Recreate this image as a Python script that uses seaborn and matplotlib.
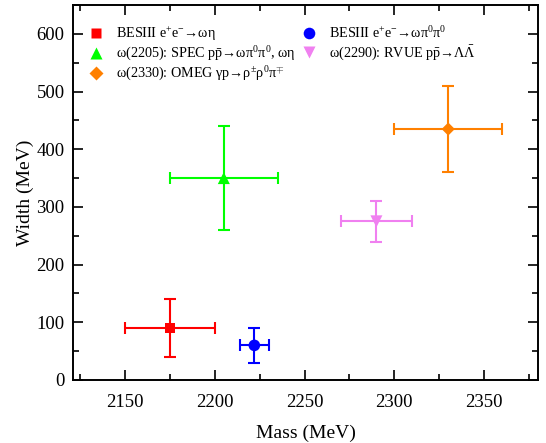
import matplotlib
matplotlib.use('Agg')
import matplotlib.pyplot as plt
from matplotlib.ticker import MultipleLocator
import seaborn as sns
import pandas as pd

# measurements: mass, width and their errors (MeV)
labels = [
    'BESIII e$^{+}$e$^{-}$→ωη',
    'ω(2205): SPEC p$\\bar{\\mathrm{p}}$→ωπ$^{0}$π$^{0}$, ωη',
    'ω(2330): OMEG γp→ρ$^{\\pm}$ρ$^{0}$π$^{\\mp}$',
    'BESIII e$^{+}$e$^{-}$→ωπ$^{0}$π$^{0}$',
    'ω(2290): RVUE p$\\bar{\\mathrm{p}}$→Λ$\\bar{\\Lambda}$',
]
mass = [2175, 2205, 2330, 2222, 2290]
mass_err = [25, 30, 30, 8, 20]
width = [90, 350, 435, 60, 275]
width_err = [50, 90, 75, 30, 35]
colors = ['#FF0000', '#00FF00', '#FF8000', '#0000FF', '#F080F0']
markers = ['s', '^', 'D', 'o', 'v']
sizes = [60, 75, 45, 70, 75]

df = pd.DataFrame({'label': labels, 'mass': mass, 'mass_err': mass_err,
                   'width': width, 'width_err': width_err})

sns.set_style('ticks', rc={'axes.edgecolor': 'black', 'xtick.color': 'black',
                           'ytick.color': 'black', 'text.color': 'black',
                           'axes.labelcolor': 'black'})
plt.rcParams['font.family'] = ['Liberation Serif', 'DejaVu Serif']
plt.rcParams['mathtext.fontset'] = 'custom'
plt.rcParams['mathtext.rm'] = 'Liberation Serif'
plt.rcParams['mathtext.it'] = 'Liberation Serif'
plt.rcParams['mathtext.default'] = 'rm'

fig = plt.figure(figsize=(5.46, 4.43), dpi=100)
ax = fig.add_axes([73 / 546, 1 - 380 / 443, 465 / 546, 375 / 443])

for i, row in df.iterrows():
    ax.errorbar(row['mass'], row['width'], xerr=row['mass_err'], yerr=row['width_err'],
                fmt='none', ecolor=colors[i], elinewidth=1.5, capsize=4, capthick=1.5,
                zorder=2)

sns.scatterplot(data=df, x='mass', y='width', hue='label', style='label',
                palette=dict(zip(labels, colors)), markers=dict(zip(labels, markers)),
                size='label', sizes=dict(zip(labels, sizes)),
                edgecolor='none', ax=ax, zorder=3, legend='full')

ax.set_xlim(2121, 2380)
ax.set_ylim(0, 650)
ax.xaxis.set_major_locator(MultipleLocator(50))
ax.xaxis.set_minor_locator(MultipleLocator(25))
ax.yaxis.set_major_locator(MultipleLocator(100))
ax.yaxis.set_minor_locator(MultipleLocator(50))
ax.tick_params(which='both', direction='in', top=True, right=True, width=1.2)
ax.tick_params(which='major', length=7, labelsize=13.5)
ax.tick_params(axis='x', which='major', pad=10)
ax.tick_params(axis='y', which='major', pad=6)
ax.tick_params(which='minor', length=4)
for s in ax.spines.values():
    s.set_linewidth(1.4)

ax.set_xlabel('Mass (MeV)', fontsize=14, labelpad=10)
ax.set_ylabel('Width (MeV)', fontsize=14, labelpad=2)

handles, lbls = ax.get_legend_handles_labels()
ax.legend(handles, lbls, ncol=2, loc='upper left', frameon=False, fontsize=10.2,
          bbox_to_anchor=(0.019, 0.948), borderpad=0, borderaxespad=0,
          handletextpad=0.38, columnspacing=0.0, labelspacing=0.15)

fig.savefig('out.png', dpi=100)
